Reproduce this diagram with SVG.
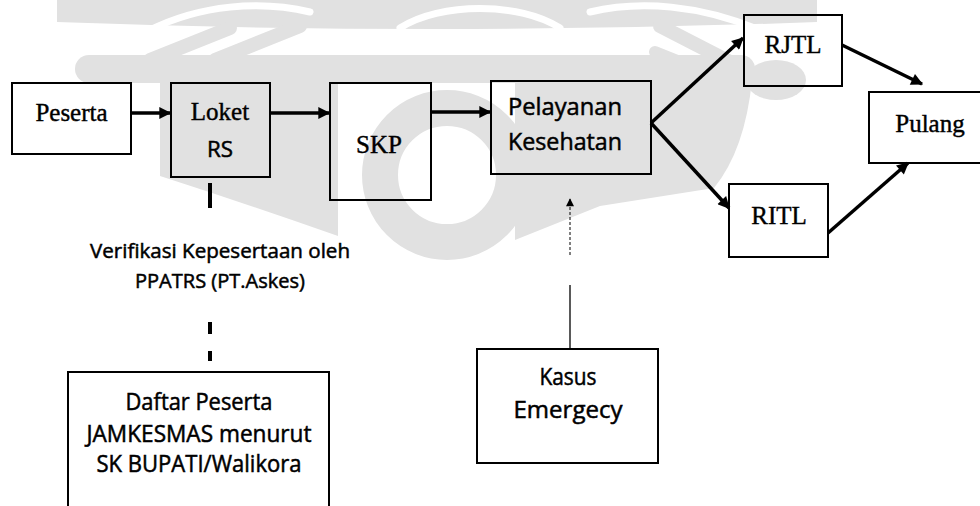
<svg xmlns="http://www.w3.org/2000/svg" width="980" height="506" viewBox="0 0 980 506">
  <defs>
    <marker id="ah" viewBox="0 0 10 10" refX="9" refY="5" markerWidth="4" markerHeight="3.4" orient="auto" markerUnits="strokeWidth">
      <path d="M0,0 L10,5 L0,10 z" fill="#000"/>
    </marker>
    <marker id="ahs" viewBox="0 0 10 10" refX="9" refY="5" markerWidth="9" markerHeight="8" orient="auto" markerUnits="strokeWidth">
      <path d="M0,0 L10,5 L0,10 z" fill="#000"/>
    </marker>
    <style>
      .box { fill: none; stroke: #000; stroke-width: 2; }
      .serif { font-family: "Liberation Serif", "Times New Roman", serif; font-size: 25px; fill: #000; stroke: #000; stroke-width: 0.4; }
      .sans { font-family: "Open Sans", "DejaVu Sans", sans-serif; font-weight: normal; fill: #000; stroke: #000; stroke-width: 0.5; }
      .flow { stroke: #000; stroke-width: 3.5; fill: none; }
      .wm { fill: #e1e1e1; stroke: none; }
      .wms { fill: none; stroke: #e1e1e1; stroke-linecap: round; }
      .gap { fill: none; stroke: #fff; stroke-linecap: round; }
    </style>
  </defs>

  <rect width="980" height="506" fill="#fff"/>

  <!-- faint background emblem -->
  <g id="emblem">
    <!-- top crest -->
    <path class="wm" d="M57,0 H817 V22 Q 437,36 57,22 Z"/>
    <path class="gap" stroke-width="7" d="M150,30 C 200,5 260,0 310,12"/>
    <path class="gap" stroke-width="7" d="M400,28 C 440,2 520,2 560,28"/>
    <path class="gap" stroke-width="7" d="M590,12 C 640,0 700,5 760,30"/>
    <!-- diagonal strokes under the crest -->
    <path class="wms" stroke-width="14" d="M150,60 L 230,28"/>
    <path class="wms" stroke-width="14" d="M215,60 L 300,26"/>
    <path class="wms" stroke-width="14" d="M660,26 L 730,62"/>
    <path class="wms" stroke-width="12" d="M655,52 L 700,70"/>
    <!-- horizontal band -->
    <rect class="wm" x="75" y="55" width="680" height="28" rx="14"/>
    <!-- left wing -->
    <path class="wm" d="M160,80 H338 V236 Q 250,205 160,176 Z"/>
    <!-- central ring -->
    <circle cx="447" cy="175" r="67" fill="none" stroke="#e1e1e1" stroke-width="36"/>
    <!-- right wing -->
    <path class="wm" d="M515,80 H752 Q 745,150 714,188 L 600,206 L 515,240 Z"/>
    <!-- small blob near the top right -->
    <ellipse class="wm" cx="776" cy="80" rx="30" ry="20"/>
  </g>

  <g id="connectors">
    <line class="flow" x1="131" y1="113" x2="170" y2="113" marker-end="url(#ah)"/>
    <line class="flow" x1="270" y1="113" x2="329" y2="113" marker-end="url(#ah)"/>
    <line class="flow" x1="431" y1="112" x2="490" y2="112" marker-end="url(#ah)"/>
    <line class="flow" x1="651" y1="123" x2="743" y2="38" marker-end="url(#ah)"/>
    <line class="flow" x1="651" y1="123" x2="729" y2="208" marker-end="url(#ah)"/>
    <line class="flow" x1="842" y1="45" x2="922" y2="84" marker-end="url(#ah)"/>
    <line class="flow" x1="828" y1="233" x2="908" y2="163" marker-end="url(#ah)"/>
    <!-- verification link below Loket RS -->
    <line stroke="#000" stroke-width="4" x1="210" y1="183" x2="210" y2="208"/>
    <line stroke="#000" stroke-width="4" x1="210" y1="322" x2="210" y2="334"/>
    <line stroke="#000" stroke-width="4" x1="210" y1="351" x2="210" y2="361"/>
    <!-- emergency link -->
    <line stroke="#000" stroke-width="1.3" x1="570" y1="349" x2="570" y2="285"/>
    <line stroke="#000" stroke-width="1" stroke-dasharray="3 2" x1="570" y1="255" x2="570" y2="199" marker-end="url(#ahs)"/>
  </g>

  <g id="peserta">
    <rect class="box" x="12" y="83" width="119" height="71"/>
    <text class="serif" x="71.5" y="121" text-anchor="middle">Peserta</text>
  </g>

  <g id="loket-rs">
    <rect class="box" x="171" y="83" width="99" height="94"/>
    <text class="serif" x="220" y="120" text-anchor="middle">Loket</text>
    <text class="sans" x="220" y="157" font-size="22" text-anchor="middle" textLength="26" lengthAdjust="spacingAndGlyphs">RS</text>
  </g>

  <g id="skp">
    <rect class="box" x="330" y="83" width="101" height="117"/>
    <text class="serif" x="379" y="153" text-anchor="middle">SKP</text>
  </g>

  <g id="pelayanan-kesehatan">
    <rect class="box" x="491" y="81" width="160" height="93"/>
    <text class="sans" x="565" y="115" font-size="23" text-anchor="middle" textLength="114" lengthAdjust="spacingAndGlyphs">Pelayanan</text>
    <text class="sans" x="565" y="150" font-size="23" text-anchor="middle" textLength="114" lengthAdjust="spacingAndGlyphs">Kesehatan</text>
  </g>

  <g id="rjtl">
    <rect class="box" x="744" y="15" width="98" height="71"/>
    <text class="serif" x="793" y="53" text-anchor="middle">RJTL</text>
  </g>

  <g id="ritl">
    <rect class="box" x="729" y="184" width="99" height="73"/>
    <text class="serif" x="779" y="224" text-anchor="middle">RITL</text>
  </g>

  <g id="pulang">
    <rect class="box" x="869" y="92" width="120" height="71"/>
    <text class="serif" x="930" y="132" text-anchor="middle">Pulang</text>
  </g>

  <g id="verifikasi">
    <text class="sans" x="220" y="258" font-size="20" text-anchor="middle" textLength="260" lengthAdjust="spacingAndGlyphs">Verifikasi Kepesertaan oleh</text>
    <text class="sans" x="220" y="288" font-size="20" text-anchor="middle" textLength="170" lengthAdjust="spacingAndGlyphs">PPATRS (PT.Askes)</text>
  </g>

  <g id="daftar-peserta">
    <path class="box" d="M68 520 V372 H329 V520"/>
    <text class="sans" x="199" y="410" font-size="23" text-anchor="middle" textLength="147" lengthAdjust="spacingAndGlyphs">Daftar Peserta</text>
    <text class="sans" x="199" y="442" font-size="23" text-anchor="middle" textLength="225" lengthAdjust="spacingAndGlyphs">JAMKESMAS menurut</text>
    <text class="sans" x="199" y="472" font-size="23" text-anchor="middle" textLength="205" lengthAdjust="spacingAndGlyphs">SK BUPATI/Walikora</text>
  </g>

  <g id="kasus-emergecy">
    <rect class="box" x="477" y="349" width="181" height="114"/>
    <text class="sans" x="568" y="385" font-size="23" text-anchor="middle" textLength="57" lengthAdjust="spacingAndGlyphs">Kasus</text>
    <text class="sans" x="568" y="418" font-size="23" text-anchor="middle" textLength="109" lengthAdjust="spacingAndGlyphs">Emergecy</text>
  </g>
</svg>
